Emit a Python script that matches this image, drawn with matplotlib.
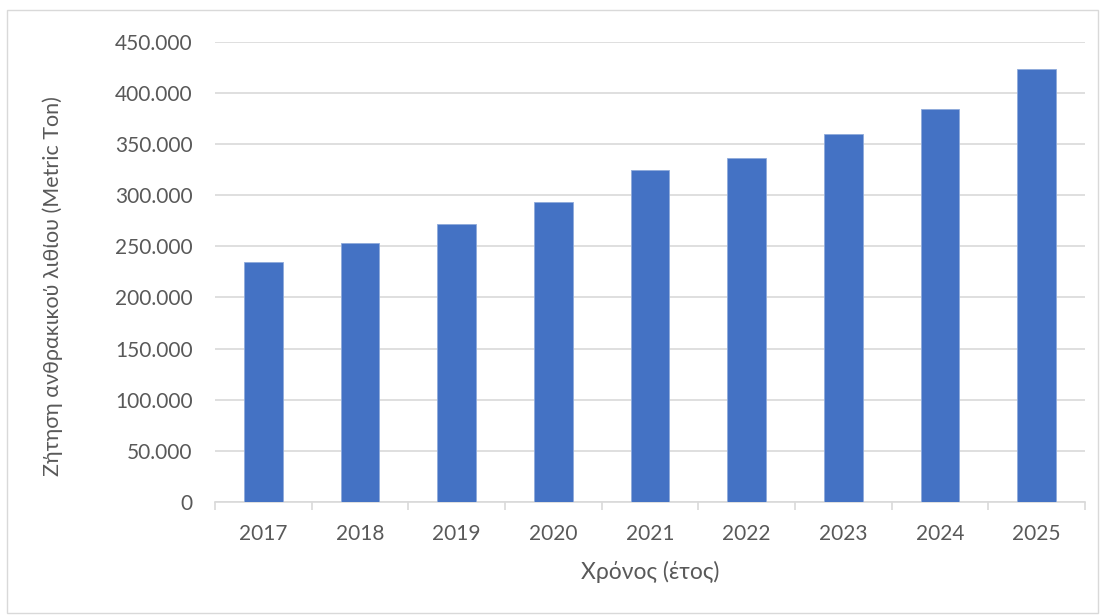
import numpy as np
import matplotlib.pyplot as plt
from matplotlib.patches import Rectangle
from matplotlib.ticker import FuncFormatter, FixedLocator

years = ['2017', '2018', '2019', '2020', '2021', '2022', '2023', '2024', '2025']
demand = [235000, 253000, 272000, 293000, 325000, 336000, 360000, 384000, 423000]

plt.rcParams['font.family'] = ['Lato', 'DejaVu Sans']
grey_txt = '#595959'
grid_col = '#d9d9d9'

fig = plt.figure(figsize=(11.02, 6.15), dpi=100)
ax = fig.add_axes([0.195, 0.1837, 0.7896, 0.7485])

x = np.arange(len(years))
ax.bar(x, demand, width=0.4, color='#4472c4', edgecolor='#8eaadb', linewidth=0.6, zorder=3)

ax.set_xlim(-0.5, len(years) - 0.5)
ax.set_ylim(0, 450000)
ax.set_yticks(np.arange(0, 450001, 50000))
ax.yaxis.set_major_formatter(FuncFormatter(lambda v, p: f'{int(v):,}'.replace(',', '.')))
ax.set_xticks(x)
ax.set_xticklabels(years)
ax.xaxis.set_minor_locator(FixedLocator(np.arange(-0.5, len(years), 1.0)))

ax.grid(axis='y', color=grid_col, linewidth=1.2, zorder=0)
for s in ['top', 'right', 'left']:
    ax.spines[s].set_visible(False)
ax.spines['bottom'].set_color(grid_col)
ax.spines['bottom'].set_linewidth(1.2)

ax.tick_params(axis='y', length=0, pad=16, labelsize=15, labelcolor=grey_txt)
ax.tick_params(axis='x', which='major', length=0, pad=16, labelsize=15, labelcolor=grey_txt)
ax.tick_params(axis='x', which='minor', length=6, width=1.2, color=grid_col)

ax.set_xlabel('Χρόνος (έτος)', fontsize=16.5, color=grey_txt, labelpad=12)
ax.set_ylabel('Ζήτηση ανθρακικού λιθίου (Metric Ton)', fontsize=15.5, color=grey_txt)
ax.yaxis.set_label_coords(-0.175, 0.47)

# thin frame round the whole chart
fig.patches.append(Rectangle((0.006, 0.004), 0.99, 0.98, transform=fig.transFigure,
                             fill=False, edgecolor=grid_col, linewidth=1.0))

fig.savefig('out.png', dpi=100, facecolor='white')
